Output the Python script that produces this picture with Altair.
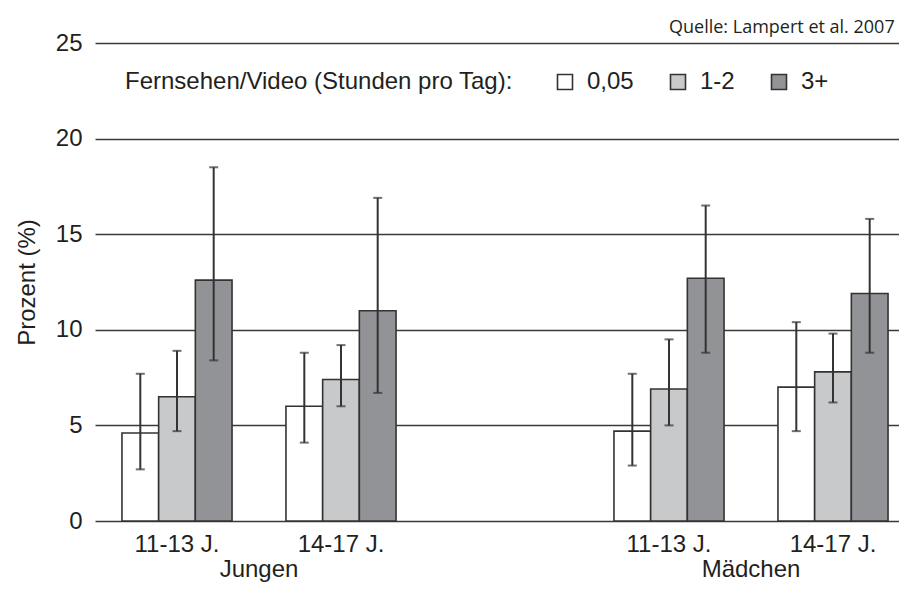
import altair as alt
import pandas as pd

# ---- data ----
sexes = ["Jungen", "Jungen", "Mädchen", "Mädchen"]
ages = ["11-13 J.", "14-17 J.", "11-13 J.", "14-17 J."]
tv_levels = ["0,05", "1-2", "3+"]
tv_colors = ["#ffffff", "#c8c9cb", "#929396"]

val_005 = [4.6, 6.0, 4.7, 7.0]
val_12 = [6.5, 7.4, 6.9, 7.8]
val_3 = [12.6, 11.0, 12.7, 11.9]

lo_005 = [2.7, 4.1, 2.9, 4.7]
hi_005 = [7.7, 8.8, 7.7, 10.4]
lo_12 = [4.7, 6.0, 5.0, 6.2]
hi_12 = [8.9, 9.2, 9.5, 9.8]
lo_3 = [8.4, 6.7, 8.8, 8.8]
hi_3 = [18.5, 16.9, 16.5, 15.8]

y_ticks = [0, 5, 10, 15, 20, 25]
group_names = ["Jungen", "Mädchen"]
source_text = ["Quelle: Lampert et al. 2007"]

# slots on the x axis (one empty slot between the two groups)
slot_order = ["Jungen 11-13 J.", "Jungen 14-17 J.", "-", "Mädchen 11-13 J.", "Mädchen 14-17 J."]
label_slots = [s for s in slot_order if s != "-"]

rows = []
for i in range(len(sexes)):
    for tv, vals, los, his in zip(tv_levels, [val_005, val_12, val_3],
                                  [lo_005, lo_12, lo_3], [hi_005, hi_12, hi_3]):
        rows.append(dict(slot=f"{sexes[i]} {ages[i]}", tv=tv,
                         value=vals[i], lo=los[i], hi=his[i]))
df = pd.DataFrame(rows)

groups_df = pd.DataFrame({"name": group_names,
                          "slot": ["Jungen 14-17 J.", "Mädchen 14-17 J."]})
source_df = pd.DataFrame({"t": source_text})

FONT = "Liberation Sans"
TXT = "#231f20"
LINE = "#3a3a3a"

# the original figure is cropped at the right: the five slots span 820 px,
# of which 804 px are visible
x_scale = alt.Scale(domain=slot_order, range=[0, 820], paddingInner=0, paddingOuter=0)
off_scale = alt.Scale(domain=tv_levels, paddingInner=0, paddingOuter=0.735)
y_scale = alt.Scale(domain=[0, 25], nice=False)

x_axis = alt.Axis(values=label_slots, title=None, domain=False, ticks=False,
                  labelAngle=0, labelFontSize=24, labelFont=FONT, labelColor=TXT,
                  labelPadding=11, grid=False,
                  labelExpr="slice(datum.label, indexof(datum.label, ' ') + 1)")
y_axis = alt.Axis(values=y_ticks, title="Prozent (%)", domain=False, ticks=False,
                  tickSize=0, labelFontSize=24, labelFont=FONT, labelColor=TXT,
                  labelPadding=13, titleFontSize=24, titleFont=FONT,
                  titleFontWeight="normal", titleColor=TXT, titlePadding=16,
                  grid=True, gridColor=LINE, gridWidth=1.6, gridOpacity=1)

X = alt.X("slot:N", scale=x_scale, axis=x_axis, sort=slot_order)
XO = alt.XOffset("tv:N", scale=off_scale, sort=tv_levels)

legend = alt.Legend(orient="none", legendX=30, legendY=27, direction="horizontal",
                    title="Fernsehen/Video (Stunden pro Tag):", titleOrient="left",
                    titleFontSize=24, titleFont=FONT, titleFontWeight="normal",
                    titleColor=TXT, titlePadding=40, titleLimit=600,
                    labelFontSize=24, labelFont=FONT,
                    labelColor=TXT, labelOffset=10, columnPadding=32,
                    symbolType="square", symbolSize=225, symbolStrokeColor="#333333",
                    symbolStrokeWidth=1.6, symbolOpacity=1, padding=0)

bars = alt.Chart(df).mark_bar(stroke="#333333", strokeWidth=1.6, opacity=1).encode(
    x=X, xOffset=XO,
    y=alt.Y("value:Q", scale=y_scale, axis=y_axis),
    fill=alt.Fill("tv:N", scale=alt.Scale(domain=tv_levels, range=tv_colors),
                  legend=legend, sort=tv_levels),
)

err = alt.Chart(df).mark_rule(color="#333333", strokeWidth=2).encode(
    x=X, xOffset=XO,
    y=alt.Y("lo:Q", scale=y_scale), y2="hi:Q",
)

cap_hi = alt.Chart(df).mark_tick(color="#333333", size=9, thickness=2).encode(
    x=X, xOffset=XO, y=alt.Y("hi:Q", scale=y_scale))
cap_lo = alt.Chart(df).mark_tick(color="#333333", size=9, thickness=2).encode(
    x=X, xOffset=XO, y=alt.Y("lo:Q", scale=y_scale))

group_labels = alt.Chart(groups_df).mark_text(
    font=FONT, fontSize=24, color=TXT, align="center", baseline="alphabetic").encode(
    x=alt.X("slot:N", scale=x_scale, bandPosition=0),
    y=alt.value(534),
    text="name:N",
)

source = alt.Chart(source_df).mark_text(
    font="Open Sans", fontSize=18, color=TXT, align="left", baseline="alphabetic").encode(
    x=alt.value(574), y=alt.value(-10), text="t:N")

chart = alt.layer(bars, err, cap_hi, cap_lo, group_labels, source).properties(
    width=804, height=478,
    autosize=alt.AutoSizeParams(type="none"),
    padding={"left": 87, "top": 35, "right": 0, "bottom": 61},
).configure_view(stroke=None)

chart.save("out.html", embed_options={"renderer": "svg", "actions": False})
